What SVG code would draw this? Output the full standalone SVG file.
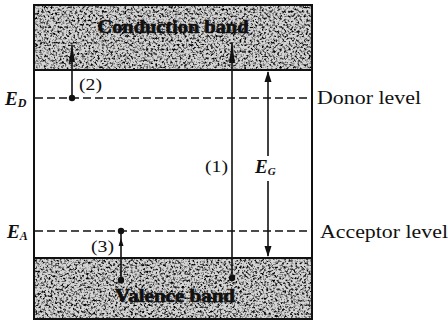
<svg xmlns="http://www.w3.org/2000/svg" width="448" height="323" viewBox="0 0 448 323">
<style>
.frame{fill:none;stroke:#111;stroke-width:2}
.band{fill:#d4d4d4}
.grain{filter:url(#grain)}
.lvl{stroke:#111;stroke-width:1.4;stroke-dasharray:8 4;fill:none}
.ln{stroke:#111;stroke-width:1.6;fill:none}
.dot{fill:#111}
.lab{font-family:"Liberation Serif","DejaVu Serif",serif;fill:#111}
.bb{font-family:"Liberation Serif","DejaVu Serif",serif;font-weight:bold;fill:#111;stroke:#111;stroke-width:0.7}
.sym{font-family:"Liberation Serif","DejaVu Serif",serif;font-weight:bold;font-style:italic;fill:#111}
</style>
<defs>
<filter id="grain" x="0" y="0" width="100%" height="100%">
<feTurbulence type="fractalNoise" baseFrequency="0.45" numOctaves="4" seed="7" result="n"/>
<feColorMatrix in="n" type="matrix" values="0 0 0 0 0  0 0 0 0 0  0 0 0 0 0  -3.2 0 0 0 1.75"/>
</filter>
</defs>

<g id="conduction-band">
<rect class="band" x="34" y="5" width="278" height="65"/>
<rect class="grain" x="34" y="5" width="278" height="65"/>
<rect class="frame" x="34" y="5" width="278" height="65"/>
<text class="bb" x="173" y="33" font-size="18" text-anchor="middle" textLength="151" lengthAdjust="spacingAndGlyphs">Conduction band</text>
</g>

<g id="gap">
<rect class="frame" x="34" y="70" width="278" height="188"/>
</g>

<g id="valence-band">
<rect class="band" x="34" y="258" width="278" height="61"/>
<rect class="grain" x="34" y="258" width="278" height="61"/>
<rect class="frame" x="34" y="258" width="278" height="61"/>
<text class="bb" x="175" y="302" font-size="18" text-anchor="middle" textLength="120" lengthAdjust="spacingAndGlyphs">Valence band</text>
</g>

<g id="donor-level">
<line class="lvl" x1="35" y1="98" x2="311" y2="98"/>
<text class="sym" x="5" y="105" font-size="19">E<tspan font-size="12" dy="2">D</tspan></text>
<text class="lab" x="317" y="104" font-size="18" textLength="104" lengthAdjust="spacingAndGlyphs">Donor level</text>
</g>

<g id="acceptor-level">
<line class="lvl" x1="35" y1="231" x2="311" y2="231"/>
<text class="sym" x="7" y="238" font-size="19">E<tspan font-size="12" dy="2">A</tspan></text>
<text class="lab" x="320" y="238" font-size="18" textLength="128" lengthAdjust="spacingAndGlyphs">Acceptor level</text>
</g>

<g id="connectors">
<line class="ln" x1="72" y1="98" x2="72" y2="45"/>
<path d="M72 45 L75 62 L69 62 Z" class="dot"/>
<circle class="dot" cx="72" cy="98" r="3.2"/>

<line class="ln" x1="232" y1="278" x2="232" y2="43"/>
<path d="M232 43 L235 63 L229 63 Z" class="dot"/>
<circle class="dot" cx="232" cy="278" r="3.2"/>

<line class="ln" x1="268" y1="72" x2="268" y2="156"/>
<path d="M268 71 L271.5 82 L264.5 82 Z" class="dot"/>
<line class="ln" x1="268" y1="181" x2="268" y2="256"/>
<path d="M268 257 L271.5 246 L264.5 246 Z" class="dot"/>

<line class="ln" x1="121" y1="280" x2="121" y2="231"/>
<path d="M121 238 L123.5 246 L118.5 246 Z" class="dot"/>
<circle class="dot" cx="121" cy="231" r="3.2"/>
<circle class="dot" cx="121" cy="280" r="3.2"/>
</g>

<g id="labels">
<text class="lab" x="79" y="90" font-size="17" textLength="23" lengthAdjust="spacingAndGlyphs">(2)</text>
<text class="lab" x="205" y="172" font-size="17" textLength="23" lengthAdjust="spacingAndGlyphs">(1)</text>
<text class="lab" x="91" y="252" font-size="17" textLength="23" lengthAdjust="spacingAndGlyphs">(3)</text>
<text class="sym" x="255" y="173" font-size="19">E<tspan font-size="11" dy="2">G</tspan></text>
</g>
</svg>
